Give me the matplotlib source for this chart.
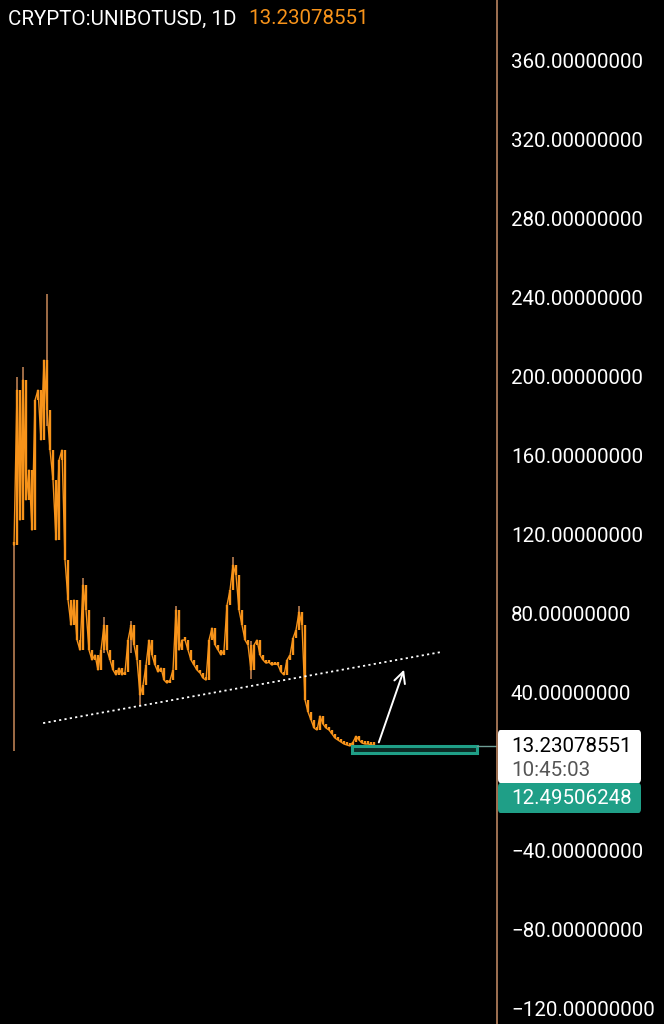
import numpy as np
import matplotlib
matplotlib.use("Agg")
import matplotlib.pyplot as plt
from matplotlib.patches import Rectangle, FancyBboxPatch, FancyArrowPatch
from matplotlib.lines import Line2D

#------------- data -------------#

# daily-ish closes, one entry every ~3 days
closes = [114.6, 193.2, 127.3, 198.3, 137.5, 152.7, 122.2, 188.1, 193.2, 167.9,
          208.4, 183.1, 162.8, 147.6, 117.2, 157.7, 162.8, 107.0, 86.8, 74.1,
          86.8, 66.5, 61.4, 94.4, 81.7, 61.4, 56.4, 58.9, 51.3, 61.4,
          74.1, 61.4, 56.4, 51.3, 48.8, 52.3, 48.8, 50.3, 66.5, 74.1,
          64.0, 56.4, 38.6, 43.7, 53.8, 66.5, 58.9, 53.8, 50.3, 52.3,
          46.2, 44.7, 46.2, 51.3, 81.7, 61.4, 66.5, 66.5, 61.4, 56.4,
          53.8, 51.3, 49.8, 47.2, 46.2, 66.5, 72.6, 64.0, 61.4, 58.9,
          61.4, 84.2, 91.8, 104.5, 99.4, 81.7, 74.1, 66.5, 64.0, 51.3,
          64.0, 66.5, 58.9, 56.4, 54.8, 55.2, 53.8, 54.8, 53.8, 50.3,
          48.8, 56.4, 58.9, 67.5, 71.6, 80.7, 74.1, 36.1, 30.0, 26.0,
          21.9, 20.9, 28.0, 23.9, 21.9, 20.9, 18.9, 16.8, 15.8, 14.8,
          13.8, 13.3, 12.8, 14.8, 17.8, 15.8, 14.3, 13.8, 13.8, 13.4,
          13.23]

# notable wicks: index, low, high
wick_idx = [0, 1, 3, 11, 23, 30, 39, 42, 54, 73, 79, 95]
wick_lo = [10.5, 120.0, 130.0, 175.0, 78.0, 60.0, 60.0, 33.5, 60.0, 95.0, 47.0, 72.0]
wick_hi = [115.0, 200.0, 205.0, 242.0, 98.0, 78.0, 76.0, 45.0, 84.0, 108.5, 66.0, 84.0]

ytick_vals = [360, 320, 280, 240, 200, 160, 120, 80, 40, -40, -80, -120]

last_price = "13.23078551"
countdown = "10:45:03"
zone_price = "12.49506248"

# trendline and arrow (index, price)
trend_x = [9.7, 142.3]
trend_y = [24.4, 60.4]
arrow_start = (121.3, 13.3)
arrow_end = (130.3, 52.8)
zone_x = [112.7, 154.3]
zone_y = [9.3, 12.6]

#------------- style -------------#

ORANGE = "#f7931a"
WICK = "#c98a5a"
AXLINE = "#b98460"
TEAL = "#1f9f87"
FONT = ["Roboto", "DejaVu Sans"]
FS = 14.8

W, H = 664, 1024
fig = plt.figure(figsize=(W / 100, H / 100), dpi=100, facecolor="black")
ax = fig.add_axes([0, 0, 497 / W, 1])
ax.set_facecolor("black")

n = len(closes)
idx = np.arange(n)
ax.set_xlim(-4.67, 161.0)
ax.set_ylim(-128.1, 390.9)

# wicks first, then bodies (open = previous close)
ax.vlines(wick_idx, wick_lo, wick_hi, color=WICK, linewidth=1.1, zorder=2)
opens = [closes[0]] + closes[:-1]
lo = np.minimum(opens, closes)
hi = np.maximum(opens, closes)
hi = np.where(hi - lo < 1.5, lo + 1.5, hi)
ax.vlines(idx, lo, hi, color=ORANGE, linewidth=1.7, zorder=3)
ax.plot(idx, closes, color=ORANGE, linewidth=1.0, zorder=3)

# dotted trendline
ax.plot(trend_x, trend_y, color="white", linestyle=(0, (1.2, 1.8)), linewidth=1.3, zorder=4)

# arrow
arr = FancyArrowPatch(arrow_start, arrow_end, arrowstyle="->,head_length=8,head_width=4",
                      color="white", linewidth=1.4, zorder=5, mutation_scale=1)
ax.add_patch(arr)

# teal zone
ax.add_patch(Rectangle((zone_x[0], zone_y[0]), zone_x[1] - zone_x[0], zone_y[1] - zone_y[0],
                       facecolor="#0b2a25", edgecolor=TEAL, linewidth=2.2, zorder=4))
ax.plot([zone_x[1], 161.0], [zone_y[1] + 0.3, zone_y[1] + 0.3], color="#6f9e95", linewidth=1.0, zorder=4)

# right side price scale
ax.yaxis.tick_right()
ax.set_yticks(ytick_vals)
ax.set_yticklabels([("\u2212" if v < 0 else "") + "%.8f" % abs(v) for v in ytick_vals],
                   color="white", fontsize=FS, family=FONT)
ax.tick_params(axis="y", length=0, pad=10)
ax.set_xticks([])
for s in ax.spines.values():
    s.set_visible(False)

fig.add_artist(Line2D([497 / W, 497 / W], [0, 1], color=AXLINE, linewidth=1.2))

# title
fig.text(8 / W, 1 - 19 / H, "CRYPTO:UNIBOTUSD, 1D", color="white", fontsize=FS,
         family=FONT, va="center", ha="left")
fig.text(248 / W, 1 - 19 / H, last_price, color=ORANGE, fontsize=FS,
         family=FONT, va="center", ha="left")

# price labels
fig.add_artist(FancyBboxPatch((498 / W, 1 - 783 / H), 143 / W, 53 / H,
                              boxstyle="round,pad=0,rounding_size=0.004",
                              facecolor="white", edgecolor="none", zorder=6))
fig.add_artist(FancyBboxPatch((498 / W, 1 - 813 / H), 143 / W, 30 / H,
                              boxstyle="round,pad=0,rounding_size=0.004",
                              facecolor=TEAL, edgecolor="none", zorder=6))
fig.text(511 / W, 1 - 746 / H, last_price, color="black", fontsize=FS, family=FONT,
         va="center", ha="left", zorder=7)
fig.text(511 / W, 1 - 771 / H, countdown, color="#555555", fontsize=FS, family=FONT,
         va="center", ha="left", zorder=7)
fig.text(511 / W, 1 - 798 / H, zone_price, color="white", fontsize=FS, family=FONT,
         va="center", ha="left", zorder=7)

fig.savefig("out.png", dpi=100, facecolor="black")
